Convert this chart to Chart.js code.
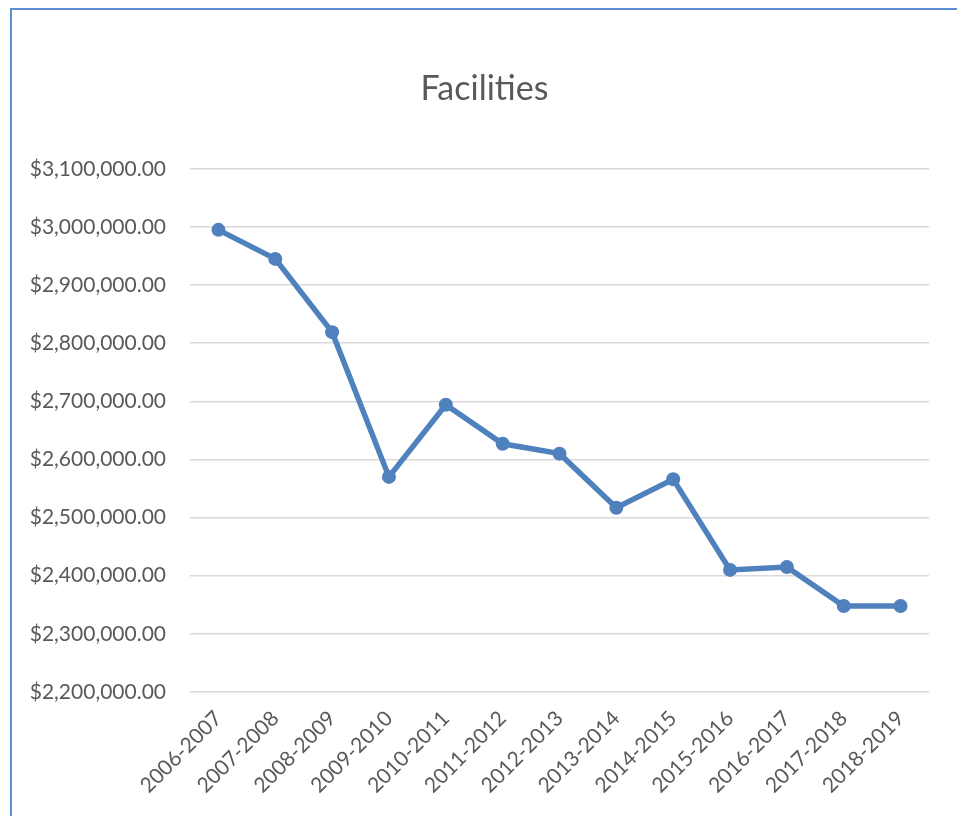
<!DOCTYPE html>
<html>
<head>
<meta charset="utf-8">
<script src="https://cdn.jsdelivr.net/npm/chart.js@4"></script>
<style>
    html, body { margin: 0; padding: 0; background: #fff; overflow: hidden; }
    #frame {
        position: absolute; left: 10px; top: 8px;
        width: 1000px; height: 900px;
        border: 2px solid #5b8fd0;
        box-sizing: border-box;
    }
    #facilities-chart { position: absolute; left: 0; top: 0; }
</style>
</head>
<body>
<div id="frame"></div>
<canvas id="facilities-chart" width="957" height="816"></canvas>
<script>
// Facilities spending per school year
const years = ['2006-2007', '2007-2008', '2008-2009', '2009-2010', '2010-2011', '2011-2012', '2012-2013',
    '2013-2014', '2014-2015', '2015-2016', '2016-2017', '2017-2018', '2018-2019'];
const facilities = [2995000, 2945000, 2819000, 2570000, 2694000, 2627000, 2610000,
    2517000, 2566000, 2410000, 2415000, 2348000, 2348000];
const yMin = 2200000;
const yMax = 3100000;
const yStep = 100000;

const textColor = '#595959';
const fontFamily = 'Lato, "Open Sans", sans-serif';

function formatDollars(value) {
    return '$' + value.toLocaleString('en-US', { minimumFractionDigits: 2, maximumFractionDigits: 2 });
}

// Centre the title over the framed area instead of the whole canvas
const titleShift = {
    id: 'titleShift',
    afterLayout(chart) {
        if (chart.titleBlock) {
            chart.titleBlock.left += 40;
        }
    }
};

function createFacilitiesChart(targetID) {
    const ctx = document.getElementById(targetID).getContext('2d');
    return new Chart(ctx, {
        type: 'line',
        data: {
            labels: years,
            datasets: [{
                label: 'Facilities',
                data: facilities,
                borderColor: '#4f81bd',
                backgroundColor: '#4f81bd',
                borderWidth: 5.5,
                pointRadius: 7,
                pointBorderWidth: 0,
                tension: 0
            }]
        },
        options: {
            responsive: false,
            animation: false,
            layout: { padding: { left: 0, right: 28, top: 0, bottom: 0 } },
            plugins: {
                legend: { display: false },
                tooltip: { enabled: false },
                title: {
                    display: true,
                    text: 'Facilities',
                    color: textColor,
                    font: { family: fontFamily, size: 34, weight: 'normal' },
                    padding: { top: 69, bottom: 59 }
                }
            },
            scales: {
                x: {
                    offset: true,
                    grid: { display: false },
                    border: { display: false },
                    ticks: {
                        color: textColor,
                        font: { family: fontFamily, size: 21 },
                        minRotation: 45,
                        maxRotation: 45,
                        padding: 6
                    },
                    afterFit: (axis) => { axis.height = 124; }
                },
                y: {
                    min: yMin,
                    max: yMax,
                    grid: { color: '#d9d9d9', lineWidth: 1.5, drawTicks: false },
                    border: { display: false },
                    ticks: {
                        stepSize: yStep,
                        color: textColor,
                        font: { family: fontFamily, size: 21 },
                        padding: 24,
                        callback: (value) => formatDollars(value)
                    },
                    afterFit: (axis) => { axis.width = 190; }
                }
            }
        },
        plugins: [titleShift]
    });
}

createFacilitiesChart('facilities-chart');
</script>
</body>
</html>
